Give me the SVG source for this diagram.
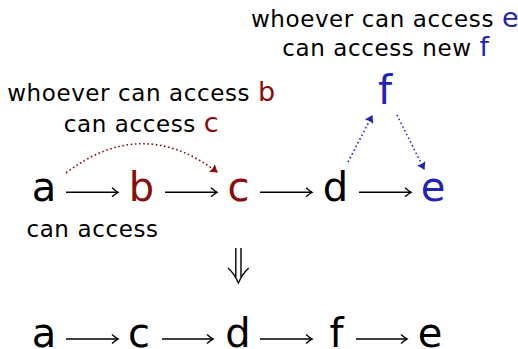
<svg xmlns="http://www.w3.org/2000/svg" width="518" height="349" viewBox="0 0 518 349">
<style>
text{font-family:"DejaVu Sans","Liberation Sans",sans-serif;fill:#000}
.big{font-size:40px;text-anchor:middle}
.lbl{font-size:23px;letter-spacing:0.6px;text-anchor:middle}
.red{fill:#8b0b0b}
.blue{fill:#2222bb}
.hl{font-size:27px}
.arr{stroke:#000;stroke-width:1.4;fill:none;marker-end:url(#ah)}
.dr{stroke:#8b0b0b;stroke-width:1.6;fill:none;stroke-dasharray:1.6 2.6;marker-end:url(#ahr)}
.db{stroke:#2222bb;stroke-width:1.6;fill:none;stroke-dasharray:1.6 2.6;marker-end:url(#ahb)}
</style>
<defs>
<marker id="ah" markerUnits="userSpaceOnUse" markerWidth="14" markerHeight="12" viewBox="-10 -6 12 12" refX="0" refY="0" orient="auto" overflow="visible">
<path d="M-6,-4.5 Q-2,-1 0,0 Q-2,1 -6,4.5" fill="none" stroke="#000" stroke-width="1.4"/>
</marker>
<marker id="ahr" markerUnits="userSpaceOnUse" markerWidth="14" markerHeight="12" viewBox="-10 -6 12 12" refX="0" refY="0" orient="auto" overflow="visible">
<path d="M-6,-4 Q-2,-1 0,0 Q-2,1 -6,4 Q-4,0 -6,-4Z" fill="#8b0b0b" stroke="#8b0b0b" stroke-width="1"/>
</marker>
<marker id="ahb" markerUnits="userSpaceOnUse" markerWidth="14" markerHeight="12" viewBox="-10 -6 12 12" refX="0" refY="0" orient="auto" overflow="visible">
<path d="M-6,-4 Q-2,-1 0,0 Q-2,1 -6,4 Q-4,0 -6,-4Z" fill="#2222bb" stroke="#2222bb" stroke-width="1"/>
</marker>
</defs>

<g id="label-ef">
<text class="lbl" x="385" y="27">whoever can access <tspan class="blue hl">e</tspan></text>
<text class="lbl" x="386" y="56">can access new <tspan class="blue hl">f</tspan></text>
</g>
<g id="label-bc">
<text class="lbl" x="141.5" y="101">whoever can access <tspan class="red hl">b</tspan></text>
<text class="lbl" x="141.5" y="132">can access <tspan class="red hl">c</tspan></text>
</g>
<g id="label-a">
<text class="lbl" x="92.5" y="237">can access</text>
</g>

<g id="node-f"><text class="big blue" x="385" y="104">f</text></g>
<g id="node-a"><text class="big" x="44" y="200.5">a</text></g>
<g id="node-b"><text class="big red" x="141.5" y="200.5">b</text></g>
<g id="node-c"><text class="big red" x="238.5" y="200.5">c</text></g>
<g id="node-d"><text class="big" x="335.5" y="200.5">d</text></g>
<g id="node-e"><text class="big blue" x="433" y="200.5">e</text></g>

<g id="node-a2"><text class="big" x="44" y="347">a</text></g>
<g id="node-c2"><text class="big" x="139" y="347">c</text></g>
<g id="node-d2"><text class="big" x="238" y="347">d</text></g>
<g id="node-f2"><text class="big" x="336.5" y="347">f</text></g>
<g id="node-e2"><text class="big" x="430" y="347">e</text></g>

<g id="connectors">
<path class="arr" d="M66,192.3H118"/>
<path class="arr" d="M165,192.3H217"/>
<path class="arr" d="M260,192.3H312"/>
<path class="arr" d="M359,192.3H411"/>
<path class="dr" d="M66,173 Q142,115 217,172"/>
<path class="db" d="M348,162 L372,116"/>
<path class="db" d="M397,115 L424,169"/>
<path class="arr" d="M66,339H118"/>
<path class="arr" d="M162,339H213"/>
<path class="arr" d="M260,339H312"/>
<path class="arr" d="M356,339H407"/>
</g>

<g id="implies" fill="none" stroke="#000" stroke-width="1.4">
<path d="M235.8,248V277M241,248V277"/>
<path d="M228,268 Q234,273 238.4,283 Q242.8,273 248.8,268"/>
</g>
</svg>
